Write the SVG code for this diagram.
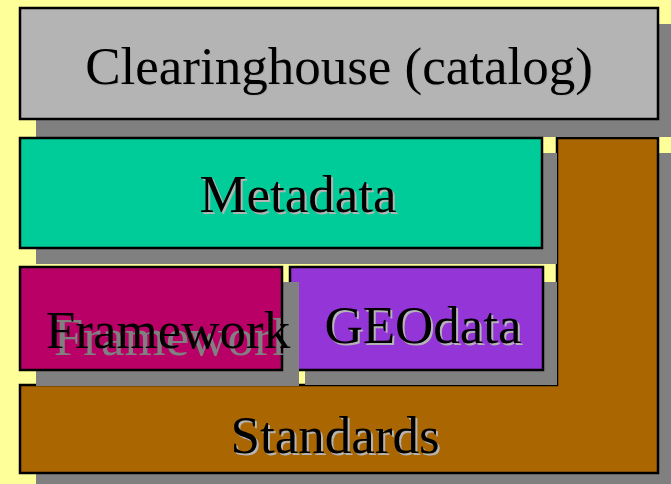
<svg xmlns="http://www.w3.org/2000/svg" width="671" height="484" viewBox="0 0 671 484">
<style>
.box{stroke:#000;stroke-width:2.5}
.sh{fill:#808080}
.t{font-family:"Liberation Serif","Times New Roman",serif;font-size:53px;text-anchor:middle;fill:#000}
.ts{font-family:"Liberation Serif","Times New Roman",serif;font-size:53px;text-anchor:middle;fill:#B4B4B4}
</style>
<rect x="0" y="0" width="671" height="484" fill="#FFFF99"/>
<g id="standards">
<path class="sh" d="M573 153 H674 V488 H36 V401 H573 Z"/>
<path class="box" fill="#AA6600" d="M557 138 H658 V473 H20 V385 H557 Z"/>
<text class="ts" x="337" y="455">Standards</text>
<text class="t" x="335" y="453">Standards</text>
</g>
<g id="clearinghouse">
<rect class="sh" x="36" y="24" width="640" height="113"/>
<rect class="box" x="20" y="8" width="638" height="111" fill="#B4B4B4"/>
<text class="ts" x="340" y="84.5" style="fill:#A8A8A8">Clearinghouse (catalog)</text>
<text class="t" x="339" y="83.5">Clearinghouse (catalog)</text>
</g>
<g id="metadata">
<rect class="sh" x="36" y="153" width="521" height="111"/>
<rect class="box" x="20" y="138" width="522" height="110" fill="#00CC99"/>
<text class="ts" x="300" y="213.5">Metadata</text>
<text class="t" x="298" y="211.5">Metadata</text>
</g>
<g id="geodata">
<rect class="sh" x="305" y="282" width="252" height="103"/>
<rect class="box" x="290" y="267" width="253" height="103" fill="#9435D8"/>
<text class="ts" x="425" y="345">GEOdata</text>
<text class="t" x="423" y="343">GEOdata</text>
</g>
<g id="framework">
<rect class="sh" x="36" y="282" width="263" height="104"/>
<rect class="box" x="20" y="267" width="262" height="103" fill="#B80066"/>
<text class="t" x="176" y="355" style="fill:#808080">Framework</text>
<text class="t" x="168" y="348">Framework</text>
</g>
<g id="connectors"></g>
</svg>
